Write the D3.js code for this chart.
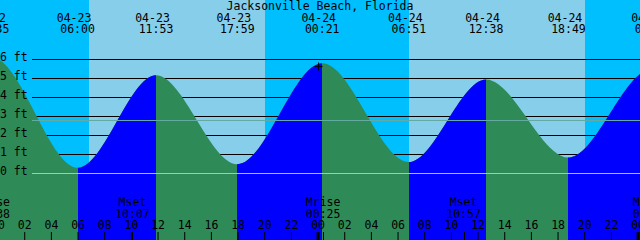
<!DOCTYPE html>
<html>
<head>
<meta charset="utf-8">
<script src="https://cdn.jsdelivr.net/npm/d3@7"></script>
<style>
html,body{margin:0;padding:0;background:#fff;}
svg{display:block;}
text{font-family:"DejaVu Sans Mono",monospace;font-size:11.5px;fill:#000;}
</style>
</head>
<body>
<svg id="chart" width="640" height="240"></svg>
<script>
// ---- data ----
const title = "Jacksonville Beach, Florida";
const windowStart = "04-23 00:11";
const windowHours = 48;
// tide extremes (first and last lie outside the visible window, they shape the edges)
const tideTimes   = ["04-22 17:20","04-22 23:35","04-23 06:00","04-23 11:53","04-23 17:59","04-24 00:21","04-24 06:51","04-24 12:38","04-24 18:49","04-25 01:05","04-25 07:40"];
const tideHeights = [0.4, 6.1, 0.3, 5.17, 0.49, 5.8, 0.6, 4.95, 0.84, 5.5, 0.7];
const labelTimes  = ["04-22 23:35","04-23 06:00","04-23 11:53","04-23 17:59","04-24 00:21","04-24 06:51","04-24 12:38","04-24 18:49","04-25 01:05"];
const sunTimes  = ["04-23 06:51","04-23 20:03","04-24 06:51","04-24 20:04"]; // rise, set, rise, set
const moonNames = ["Mrise","Mset","Mrise","Mset","Mrise"];
const moonTimes = ["04-22 23:38","04-23 10:07","04-24 00:25","04-24 10:57","04-25 00:56"];
const depthTicks = [0,1,2,3,4,5,6];
const meanLevel = 2.79;
const markTime = "04-24 00:00", markHeight = 5.68;
const hourTicks = [0,2,4,6,8,10,12,14,16,18,20,22,24,26,28,30,32,34,36,38,40,42,44,46,48];
const hourLabels = ["00","02","04","06","08","10","12","14","16","18","20","22","00","02","04","06","08","10","12","14","16","18","20","22","00"];

// ---- helpers ----
function hrs(s){
  const [md, hm] = s.split(" ");
  const day = +md.split("-")[1];
  const [h, m] = hm.split(":").map(Number);
  return (day - 23) * 24 + h + m / 60;
}
const W = 640, H = 240;
const svg = d3.select("#chart");
const h0 = hrs(windowStart);
const x = d3.scaleLinear().domain([h0, h0 + windowHours]).range([0, W]);
const y = d3.scaleLinear().domain([0, 6]).range([173.5, 59.5]);

const COL = {night:"#00BFFF", day:"#87CEEB", flood:"#0000FF", ebb:"#2E8B57", datum:"#87CEEB", msl:"#62AAA2"};

// ---- day / night background ----
svg.append("rect").attr("x",0).attr("y",0).attr("width",W).attr("height",H).attr("fill",COL.night);
for (let i = 0; i < sunTimes.length; i += 2) {
  const a = x(hrs(sunTimes[i])), b = x(hrs(sunTimes[i+1]));
  svg.append("rect").attr("x",Math.round(a)).attr("y",0)
    .attr("width",Math.round(b)-Math.round(a)).attr("height",H).attr("fill",COL.day);
}

// ---- depth lines behind tide ----
svg.append("g").selectAll("line").data(depthTicks.filter(d => d > 0)).join("line")
  .attr("x1",32).attr("x2",W).attr("y1",d=>y(d)).attr("y2",d=>y(d))
  .attr("stroke","#000").attr("stroke-width",1);

// ---- tide area ----
const tide = tideTimes.map((t,i)=>({h:hrs(t), v:tideHeights[i]}));
const area = d3.area().x(d=>x(d.h)).y0(H).y1(d=>y(d.v)).curve(d3.curveMonotoneX);
svg.append("path").datum(tide).attr("d",area).attr("fill",COL.ebb);

const clip = svg.append("defs").append("clipPath").attr("id","rising");
for (let i = 0; i < tide.length - 1; i++) {
  if (tide[i+1].v > tide[i].v) {
    const a = Math.round(x(tide[i].h)), b = Math.round(x(tide[i+1].h));
    clip.append("rect").attr("x",a).attr("y",0).attr("width",b-a).attr("height",H);
  }
}
svg.append("path").datum(tide).attr("d",area).attr("fill",COL.flood).attr("clip-path","url(#rising)");

// ---- datum and mean lines on top ----
svg.append("line").attr("x1",32).attr("x2",W).attr("y1",y(0)).attr("y2",y(0))
  .attr("stroke",COL.datum).attr("stroke-width",1);
svg.append("line").attr("x1",32).attr("x2",W).attr("y1",Math.round(y(meanLevel))+0.5).attr("y2",Math.round(y(meanLevel))+0.5)
  .attr("stroke",COL.msl).attr("stroke-width",1);

// ---- mark cross ----
const mx = Math.round(x(hrs(markTime)))+0.5, my = Math.round(y(markHeight))+0.5;
svg.append("path").attr("d",`M${mx-4},${my}H${mx+4}M${mx},${my-4}V${my+4}`)
  .attr("stroke","#000").attr("stroke-width",1).attr("fill","none");

// ---- depth labels ----
svg.append("g").selectAll("text").data(depthTicks).join("text")
  .attr("x",0).attr("y",d=>y(d)+1.5).text(d=>d+" ft");

// ---- title ----
svg.append("text").attr("x",320).attr("y",10).attr("text-anchor","middle").text(title);

// ---- tide event labels ----
const topLabels = svg.append("g").attr("text-anchor","middle");
labelTimes.forEach(t=>{
  const [md, hm] = t.split(" ");
  const cx = x(hrs(t));
  topLabels.append("text").attr("x",cx-3.5).attr("y",21.5).text(md);
  topLabels.append("text").attr("x",cx).attr("y",33).text(hm);
});

// ---- moon labels ----
const moon = svg.append("g").attr("text-anchor","middle");
moonTimes.forEach((t,i)=>{
  const cx = x(hrs(t));
  moon.append("text").attr("x",cx).attr("y",206).text(moonNames[i]);
  moon.append("text").attr("x",cx).attr("y",217.5).text(t.split(" ")[1]);
  moon.append("line").attr("x1",Math.round(cx)+0.5).attr("x2",Math.round(cx)+0.5)
    .attr("y1",232).attr("y2",H).attr("stroke","#000").attr("stroke-width",1);
});

// ---- hour axis ----
const axis = d3.axisTop(x).tickValues(hourTicks)
  .tickFormat((d,i)=>hourLabels[i]).tickSize(8).tickPadding(2.7);
const ax = svg.append("g").attr("transform",`translate(0,${H})`).call(axis);
ax.select(".domain").remove();
ax.selectAll("text").attr("fill","#000").style("font-family",'"DejaVu Sans Mono",monospace').style("font-size","11.5px");
ax.selectAll(".tick line").attr("stroke","#000").attr("stroke-width",(d)=> d%24===0 ? 3 : 1);
</script>
</body>
</html>
